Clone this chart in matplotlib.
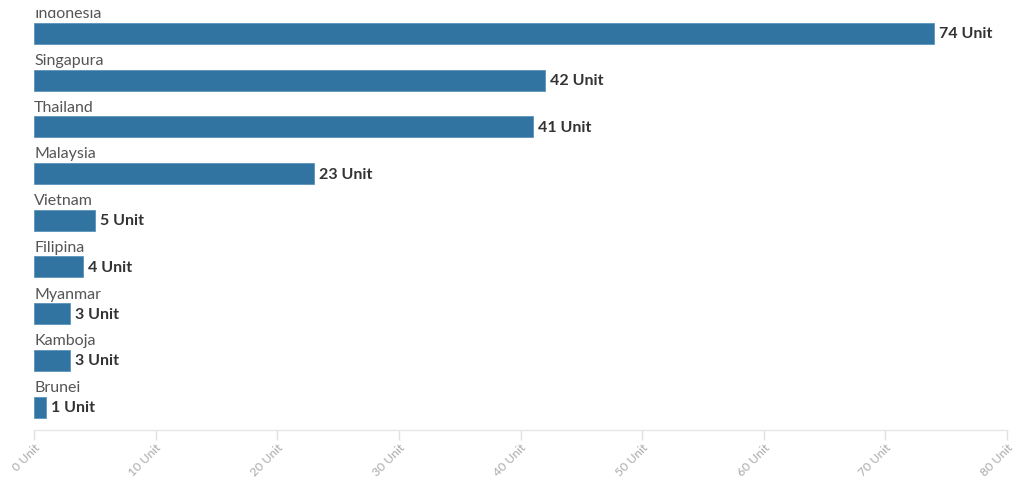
import matplotlib
matplotlib.use("Agg")
import matplotlib.pyplot as plt

countries = ["Indonesia", "Singapura", "Thailand", "Malaysia", "Vietnam",
             "Filipina", "Myanmar", "Kamboja", "Brunei"]
values = [74, 42, 41, 23, 5, 4, 3, 3, 1]
xticks = [0, 10, 20, 30, 40, 50, 60, 70, 80]
xtick_labels = [f"{t} Unit" for t in xticks]

plt.rcParams['font.family'] = ['Lato', 'DejaVu Sans']

fig = plt.figure(figsize=(10.16, 4.81), dpi=100)
ax = fig.add_axes([34/1016, 50/481, (1007-34)/1016, (481-11-50)/481])

ypos = list(range(len(countries)))
ax.barh(ypos, values, height=0.45, color="#3274a1", edgecolor="#5a93ba", linewidth=0.6)

for y, c, v in zip(ypos, countries, values):
    ax.text(0, y - 0.28, c, ha="left", va="bottom", fontsize=11.5, color="#555555",
            clip_on=True)
    ax.text(v + 0.4, y, f"{v} Unit", ha="left", va="center", fontsize=11.5,
            fontweight="bold", color="#333333")

ax.set_xlim(0, 80)
ax.set_ylim(8.49, -0.50)
ax.set_yticks([])
ax.set_xticks(xticks)
ax.set_xticklabels(xtick_labels, rotation=45, ha="right", rotation_mode="anchor",
                   fontsize=8.8, color="#aaaaaa")
ax.tick_params(axis="x", length=7, width=1, color="#e0e0e0", pad=1)
for s in ["top", "right", "left"]:
    ax.spines[s].set_visible(False)
ax.spines["bottom"].set_color("#e6e6e6")
ax.spines["bottom"].set_linewidth(1)

fig.savefig("out.png", dpi=100)
